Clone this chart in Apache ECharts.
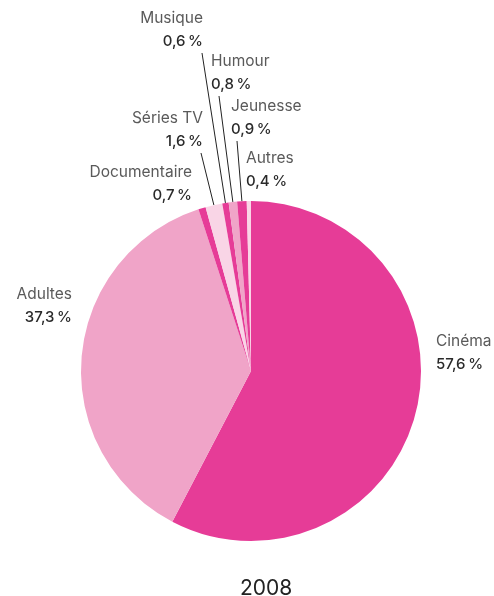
<!DOCTYPE html>
<html>
<head>
<meta charset="utf-8">
<script src="https://cdn.jsdelivr.net/npm/echarts@6/dist/echarts.min.js"></script>
<style>html,body{margin:0;padding:0;background:#fff;}#c{width:494px;height:596px;}</style>
</head>
<body>
<div id="c"></div>
<script>
var categories = ['Cinéma', 'Adultes', 'Documentaire', 'Séries TV', 'Musique', 'Humour', 'Jeunesse', 'Autres'];
var values = [57.6, 37.3, 0.7, 1.6, 0.6, 0.8, 0.9, 0.4];
var valueLabels = ['57,6\u2009%', '37,3\u2009%', '0,7\u2009%', '1,6\u2009%', '0,6\u2009%', '0,8\u2009%', '0,9\u2009%', '0,4\u2009%'];
var year = '2008';

var colors = ['#e63c97', '#f0a4c8', '#e63c97', '#f9d5e6', '#e63c97', '#f0a4c8', '#e63c97', '#f9d5e6'];
// label placement: [align, x, yMid, lineStartX, lineStartY or null]
var labelPos = {
  'Cinéma':       ['left', 436, 352.5, null, null],
  'Adultes':      ['right', 72, 306, null, null],
  'Documentaire': ['right', 192, 183.5, null, null],
  'Séries TV':    ['right', 203, 129.5, 201, 153],
  'Musique':      ['right', 203, 29.5, 202, 53],
  'Humour':       ['left', 211, 73, 219, 96],
  'Jeunesse':     ['left', 231, 117.5, 237, 141],
  'Autres':       ['left', 246, 169.5, null, null]
};

var data = categories.map(function (n, i) {
  return {
    name: n,
    value: values[i],
    itemStyle: { color: colors[i] },
    labelLine: { show: labelPos[n][3] !== null }
  };
});

var chart = echarts.init(document.getElementById('c'), null, { renderer: 'canvas' });
chart.setOption({
  animation: false,
  title: {
    text: year,
    left: 235,
    top: 571,
    textStyle: { fontFamily: 'Inter', fontSize: 21, fontWeight: 'normal', color: '#222', lineHeight: 26 }
  },
  series: [{
    type: 'pie',
    center: [251, 371],
    radius: 170,
    startAngle: 90,
    clockwise: true,
    avoidLabelOverlap: false,
    itemStyle: { borderWidth: 0 },
    label: {
      show: true,
      formatter: function (p) {
        return '{n|' + p.name + '}\n{v|' + valueLabels[p.dataIndex] + '}';
      },
      rich: {
        n: { fontFamily: 'Inter', fontSize: 15.5, color: '#5a5a5a', lineHeight: 23 },
        v: { fontFamily: 'Inter', fontSize: 15, fontWeight: 500, color: '#2a2a2a', lineHeight: 23 }
      }
    },
    labelLine: {
      show: true,
      lineStyle: { color: '#222', width: 1 }
    },
    labelLayout: function (params) {
      var name = categories[params.dataIndex];
      var lp = labelPos[name];
      var res = {
        x: lp[1],
        y: lp[2],
        align: lp[0],
        verticalAlign: 'middle',
        hideOverlap: false,
        moveOverlap: null
      };
      if (lp[3] !== null && params.labelLinePoints) {
        var e = params.labelLinePoints[0];
        res.labelLinePoints = [[e[0], e[1]], [lp[3], lp[4]], [lp[3], lp[4]]];
      }
      return res;
    },
    data: data
  }]
});
</script>
</body>
</html>
